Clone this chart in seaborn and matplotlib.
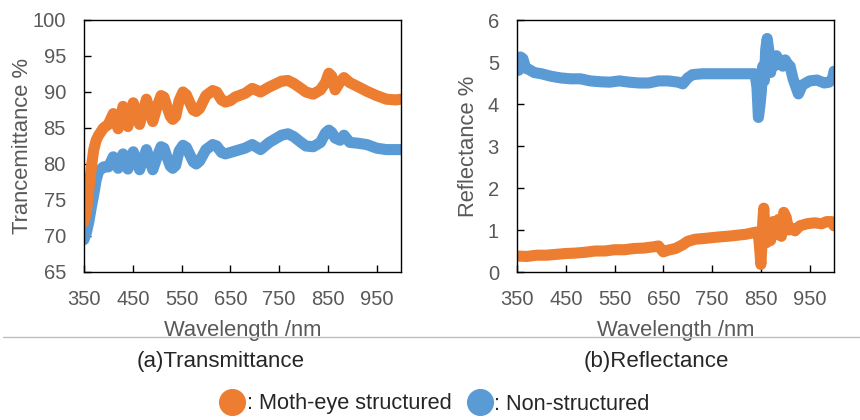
import pandas as pd
import matplotlib.pyplot as plt
import seaborn as sns
from matplotlib.lines import Line2D

# transmittance
wl_t = [350, 355, 360, 365, 370, 375, 380, 390, 400, 410, 420, 430, 440, 451, 464, 478,
        491, 500, 508, 514, 520, 527, 532, 538, 545, 553, 560, 567, 574, 580, 587, 600,
        614, 622, 632, 640, 650, 660, 680, 695, 712, 730, 755, 768, 780, 795, 805, 820,
        835, 845, 852, 858, 865, 875, 883, 895, 910, 930, 950, 970, 990, 1000]
t_moth = [72.0, 73.5, 76.5, 79.5, 82.0, 83.3, 84.0, 85.0, 85.5, 87.0, 84.9, 88.0, 85.2, 88.5,
          85.5, 89.0, 85.9, 88.0, 89.5, 89.3, 88.0, 86.6, 86.2, 86.6, 88.8, 90.0, 89.6, 88.5,
          87.5, 87.3, 87.7, 89.5, 90.2, 90.0, 88.9, 88.6, 88.8, 89.3, 89.8, 90.5, 90.0, 90.7,
          91.5, 91.6, 91.2, 90.5, 90.0, 89.7, 90.3, 91.3, 92.6, 92.2, 90.3, 91.4, 92.0, 91.3,
          90.8, 90.1, 89.5, 89.0, 88.9, 89.0]
t_non = [69.5, 70.5, 72.0, 74.0, 75.8, 77.8, 79.0, 79.6, 79.6, 81.0, 79.4, 81.4, 79.3, 81.7,
         79.2, 82.0, 79.2, 81.0, 82.4, 82.2, 81.0, 79.7, 79.4, 79.8, 81.8, 82.6, 82.3, 81.3,
         80.3, 80.0, 80.4, 82.0, 82.7, 82.5, 81.6, 81.4, 81.6, 81.8, 82.2, 82.7, 82.0, 83.0,
         84.0, 84.2, 83.8, 83.0, 82.5, 82.4, 83.0, 84.3, 84.7, 84.4, 83.6, 83.3, 84.0, 83.0,
         82.9, 82.7, 82.2, 82.0, 82.0, 82.0]

# reflectance
wl_r_moth = [350, 370, 390, 410, 430, 450, 470, 490, 510, 530, 550, 570, 590, 610, 630, 640,
             650, 660, 675, 690, 700, 715, 735, 760, 790, 820, 840, 845, 848, 850, 852, 854,
             856, 858, 862, 866, 870, 875, 880, 883, 886, 892, 895, 897, 902, 907, 912, 920,
             930, 945, 960, 975, 985, 995, 1000]
r_moth = [0.38, 0.37, 0.40, 0.40, 0.42, 0.44, 0.45, 0.47, 0.50, 0.50, 0.53, 0.53, 0.56, 0.57,
          0.60, 0.62, 0.48, 0.52, 0.56, 0.65, 0.73, 0.78, 0.80, 0.83, 0.86, 0.90, 0.95, 0.90,
          0.50, 0.18, 0.60, 1.20, 1.52, 1.10, 0.70, 1.10, 0.75, 1.20, 0.90, 1.10, 1.25, 0.85,
          1.15, 1.42, 1.30, 1.00, 1.05, 0.98, 1.10, 1.15, 1.17, 1.15, 1.20, 1.20, 1.10]
wl_r_non = [350, 353, 357, 362, 368, 375, 385, 400, 420, 440, 460, 480, 500, 520, 540, 560,
            580, 600, 620, 640, 660, 680, 690, 700, 710, 730, 760, 790, 820, 838, 842, 845,
            848, 851, 854, 857, 860, 863, 866, 870, 873, 877, 882, 886, 890, 895, 900, 905,
            910, 916, 927, 935, 950, 965, 980, 990, 997, 1000]
r_non = [5.00, 4.80, 5.12, 5.08, 4.85, 4.82, 4.75, 4.72, 4.66, 4.62, 4.60, 4.60, 4.55, 4.53,
         4.52, 4.55, 4.52, 4.50, 4.50, 4.55, 4.55, 4.52, 4.48, 4.62, 4.70, 4.72, 4.72, 4.72,
         4.72, 4.72, 4.40, 3.68, 3.95, 4.30, 4.90, 4.55, 5.30, 5.56, 5.30, 4.75, 5.10, 4.90,
         5.15, 4.95, 5.05, 4.90, 5.05, 4.95, 4.90, 4.60, 4.24, 4.45, 4.55, 4.57, 4.50, 4.52,
         4.60, 4.78]

orange = "#ED7D31"
blue = "#5B9BD5"
grey = "#595959"

sns.set_style("ticks")
plt.rcParams["font.family"] = ["Liberation Sans", "DejaVu Sans"]

df_t = pd.DataFrame({"wl": wl_t, "moth": t_moth, "non": t_non})
df_rm = pd.DataFrame({"wl": wl_r_moth, "r": r_moth})
df_rn = pd.DataFrame({"wl": wl_r_non, "r": r_non})

fig = plt.figure(figsize=(8.6, 4.2), dpi=100)
ax1 = fig.add_axes([84/860, 1 - 272/420, 317/860, 252/420])
ax2 = fig.add_axes([517/860, 1 - 272/420, 317/860, 252/420])

line_kw = dict(estimator=None, sort=False, linewidth=8, solid_capstyle="round",
               solid_joinstyle="round")
sns.lineplot(data=df_t, x="wl", y="non", color=blue, ax=ax1, **line_kw)
sns.lineplot(data=df_t, x="wl", y="moth", color=orange, ax=ax1, **line_kw)
sns.lineplot(data=df_rn, x="wl", y="r", color=blue, ax=ax2, **line_kw)
sns.lineplot(data=df_rm, x="wl", y="r", color=orange, ax=ax2, **line_kw)

ax1.set_ylim(65, 100)
ax1.set_yticks(range(65, 101, 5))
ax2.set_ylim(0, 6)
ax2.set_yticks(range(0, 7))

for ax, lab, lx in [(ax1, "Trancemittance %", -0.16), (ax2, "Reflectance %", -0.12)]:
    ax.set_xlim(350, 1000)
    ax.set_xticks(range(350, 1000, 100))
    ax.tick_params(direction="in", length=5, width=1, color="black",
                   labelsize=14.5, labelcolor=grey, pad=13)
    for sp in ax.spines.values():
        sp.set_visible(True)
        sp.set_color("black")
        sp.set_linewidth(1)
    ax.set_xlabel("Wavelength /nm", fontsize=15.8, color=grey)
    ax.set_ylabel(lab, fontsize=15.8, color=grey)
    ax.xaxis.set_label_coords(0.5, -0.19)
    ax.yaxis.set_label_coords(lx, 0.5)

fig.add_artist(Line2D([0.004, 1.0], [1 - 337/420, 1 - 337/420], color="#BFBFBF", lw=1))
fig.text(0.256, 1 - 361/420, "(a)Transmittance", ha="center", va="center", fontsize=16)
fig.text(0.763, 1 - 361/420, "(b)Reflectance", ha="center", va="center", fontsize=16)

handles = [Line2D([], [], ls="none", marker="o", markersize=18.5, color=orange),
           Line2D([], [], ls="none", marker="o", markersize=18.5, color=blue)]
fig.legend(handles, [": Moth-eye structured", ": Non-structured"], ncol=2, frameon=False,
           loc="center", bbox_to_anchor=(0.505, 1 - 404/420), fontsize=15.7,
           handlelength=1.2, handletextpad=0.05, columnspacing=0.7, borderpad=0)

fig.savefig("out.png", dpi=100)
